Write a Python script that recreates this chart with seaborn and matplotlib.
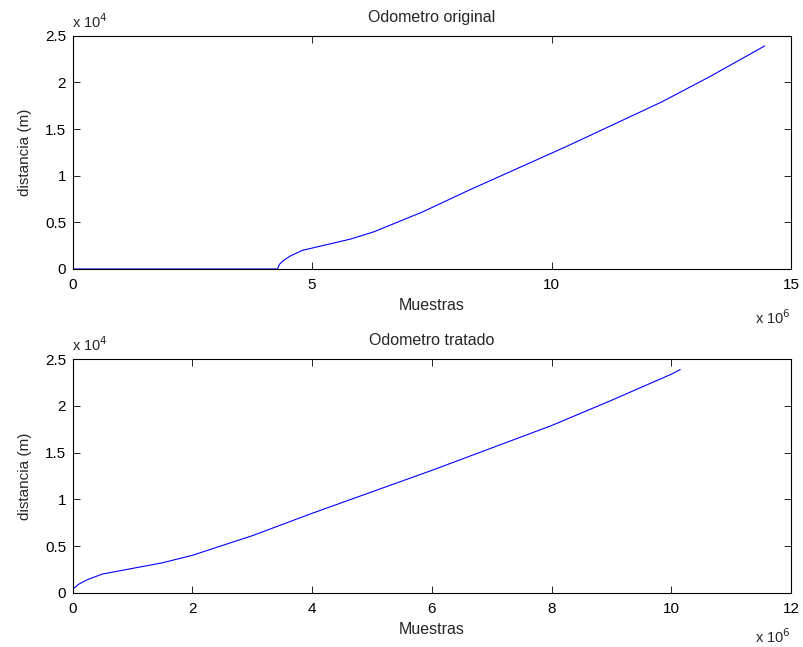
import matplotlib
matplotlib.use("Agg")
import matplotlib.pyplot as plt
import seaborn as sns
import pandas as pd
from matplotlib.ticker import FuncFormatter, MultipleLocator

# Data (samples in millions, distance in thousands of metres)
orig_samples_M = [0, 4.28, 4.32, 4.40, 4.55, 4.80, 5.30, 5.80, 6.30, 7.30, 8.30,
                  9.30, 10.30, 11.30, 12.30, 13.30, 14.45]
orig_dist_k = [0, 0, 0.5, 0.9, 1.4, 2.0, 2.6, 3.2, 4.0, 6.1, 8.5,
               10.8, 13.1, 15.5, 17.9, 20.6, 23.9]
treat_samples_M = [0, 0.10, 0.25, 0.50, 1.0, 1.5, 2.0, 3.0, 4.0, 5.0, 6.0,
                   7.0, 8.0, 9.0, 10.0, 10.15]
treat_dist_k = [0.35, 0.9, 1.4, 2.0, 2.6, 3.2, 4.0, 6.1, 8.5, 10.8, 13.1,
                15.5, 17.9, 20.6, 23.4, 23.9]

titles = ["Odometro original", "Odometro tratado"]
xlabel = "Muestras"
ylabel = "distancia (m)"
xmax = [15e6, 12e6]
xstep = [5e6, 2e6]
exp_y = [-0.236, -0.215]

sns.set_style("ticks")
plt.rcParams["font.family"] = ["Liberation Sans", "DejaVu Sans"]
plt.rcParams["font.size"] = 10

fig = plt.figure(figsize=(8.04, 6.47), dpi=100)
L, R = 72.5 / 804, 791 / 804
boxes = [(35.7, 269.0), (359.3, 592.7)]

datasets = [
    pd.DataFrame({"x": [v * 1e6 for v in orig_samples_M], "y": [v * 1e3 for v in orig_dist_k]}),
    pd.DataFrame({"x": [v * 1e6 for v in treat_samples_M], "y": [v * 1e3 for v in treat_dist_k]}),
]

for i, (top, bot) in enumerate(boxes):
    h = bot - top
    ax = fig.add_axes([L, 1 - bot / 647, R - L, h / 647])
    sns.lineplot(data=datasets[i], x="x", y="y", ax=ax, color=(0, 0, 1), linewidth=0.8,
                 sort=False, estimator=None)
    ax.set_xlim(0, xmax[i])
    ax.set_ylim(0, 2.5e4)
    ax.xaxis.set_major_locator(MultipleLocator(xstep[i]))
    ax.yaxis.set_major_locator(MultipleLocator(5e3))
    ax.xaxis.set_major_formatter(FuncFormatter(lambda v, p: f"{v/1e6:g}"))
    ax.yaxis.set_major_formatter(FuncFormatter(lambda v, p: f"{v/1e4:g}"))
    for s in ax.spines.values():
        s.set_visible(True)
        s.set_linewidth(0.8)
        s.set_color("black")
    ax.tick_params(direction="in", length=5, width=0.6, top=True, right=True,
                   labelsize=11, colors="black")
    ax.tick_params(axis="x", pad=6.5)
    ax.tick_params(axis="y", pad=4.5)
    ax.set_title(titles[i], fontsize=11.5, pad=10)
    ax.set_xlabel(xlabel, fontsize=11.5, va="top")
    ax.xaxis.set_label_coords(0.5, (269.0 - 298.0) / 233.3)
    ax.set_ylabel(ylabel, fontsize=11)
    ax.yaxis.set_label_coords((32 - 72.5) / (791 - 72.5), 0.5)
    ax.text(0.0, 1.035, r"x 10$^{4}$", transform=ax.transAxes, ha="left", va="baseline", fontsize=10.5)
    ax.text(1.0, exp_y[i], r"x 10$^{6}$", transform=ax.transAxes, ha="right", va="baseline", fontsize=10.5)
    ax.grid(False)

fig.savefig("out.png", dpi=100, facecolor="white")
